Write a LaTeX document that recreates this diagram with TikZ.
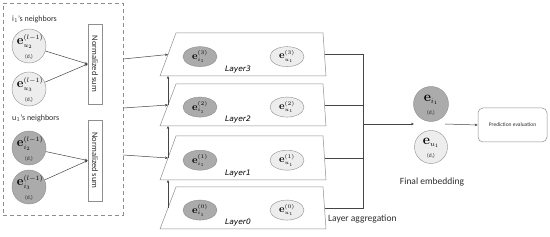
\RequirePackage{fix-cm}
\documentclass[tikz,border=0pt]{standalone}
\usepackage[no-math]{fontspec}
\setmainfont{Carlito}
\newfontfamily\layerfont{DejaVu Sans}
\usetikzlibrary{arrows.meta,calc,shapes.geometric}
\DeclareMathSizes{13}{13}{6.5}{5}
\DeclareMathSizes{10.5}{10.5}{5.5}{4.5}
\DeclareMathSizes{14}{14}{7}{5}
\definecolor{darkfill}{HTML}{ABABAB}
\definecolor{lightfill}{HTML}{EDEDED}
\definecolor{edgegray}{HTML}{8E8E8E}
\definecolor{linegray}{HTML}{454545}
\definecolor{txtgray}{HTML}{2E2E2E}
\tikzset{
  conn/.style={draw=linegray, line width=0.5pt, -{Stealth[length=3pt,width=2.6pt]}},
  plainline/.style={draw=linegray, line width=0.5pt},
  nbcirc/.style={circle, draw=edgegray, line width=0.4pt, minimum size=34pt, inner sep=0pt},
  nbdark/.style={nbcirc, fill=darkfill},
  nblight/.style={nbcirc, fill=lightfill},
  etext/.style={inner sep=0pt, font=\fontsize{13}{13}\selectfont},
  dtext/.style={inner sep=0pt, font=\fontsize{5.5}{6}\selectfont, text=txtgray},
  layerell/.style={ellipse, draw=edgegray, line width=0.4pt, minimum width=34pt, minimum height=20pt, inner sep=0pt, font=\fontsize{10.5}{10.5}\selectfont},
  plane/.style={draw=edgegray, line width=0.5pt, fill=white},
  sumbox/.style={draw=edgegray, line width=0.5pt, minimum width=14pt, inner sep=0pt, text=txtgray},
  lbl/.style={text=txtgray, inner sep=0pt},
  layerlbl/.style={inner sep=0pt, font=\layerfont\itshape\fontsize{7.5}{8}\selectfont, text=black},
}
\begin{document}
\begin{tikzpicture}[x=1pt,y=-1pt]
\useasboundingbox (0,0) rectangle (550,237);
\fill[white] (0,0) rectangle (550,237);

% dashed neighbour box
\node[draw=edgegray, dashed, dash pattern=on 4pt off 3pt, line width=0.6pt, minimum width=120pt, minimum height=212pt, inner sep=0pt] (nbbox) at (63,109) {};
\node[lbl, anchor=west, font=\fontsize{8}{8}\selectfont] (lab1) at (12,19) {i$_1$'s neighbors};
\node[lbl, anchor=west, font=\fontsize{8}{8}\selectfont] (lab2) at (12,118) {u$_1$'s neighbors};

\foreach \nm/\sty/\cy/\sb in {c1/nblight/46/u_2, c2/nblight/89/u_3, c3/nbdark/148/i_2, c4/nbdark/187/i_3}{
  \node[\sty] (\nm) at (29,\cy) {};
  \node[etext] (\nm e) at ($(\nm.center)+(1,-4)$) {$\mathbf{e}^{(l-1)}_{\sb}$};
  \node[dtext] (\nm d) at ($(\nm.center)+(0,11)$) {(d,)};
}

\node[sumbox, minimum height=80pt] (ns1) at (95,64) {};
\node[sumbox, minimum height=81pt] (ns2) at (95,160.5) {};
\node[lbl, rotate=-90, font=\fontsize{8.5}{9}\selectfont] (ns1t) at (ns1.center) {Normalized sum};
\node[lbl, rotate=-90, font=\fontsize{8.5}{9}\selectfont] (ns2t) at (ns2.center) {Normalized sum};

\draw[conn] (c1) -- (ns1.west);
\draw[conn] (c2) -- (ns1.west);
\draw[conn] (c3) -- (ns2.west);
\draw[conn] (c4) -- (ns2.west);

% layer planes
\foreach \n/\T/\B in {3/33/76, 2/84/126, 1/136/180, 0/187/229}{
  \draw[plane] (176,\T) coordinate (tl\n) -- (323,\T) coordinate (tr\n) -- (326,\B) coordinate (br\n) -- (160,\B) coordinate (bl\n) -- cycle;
  \coordinate (lm\n) at ($(tl\n)!0.5!(bl\n)$);
  \coordinate (rm\n) at ($(tr\n)!0.5!(br\n)$);
  \node[layerell, fill=darkfill] (d\n) at (200,{\T+0.55*(\B-\T)}) {$\mathbf{e}^{(\n)}_{i_1}$};
  \node[layerell, fill=lightfill] (l\n) at (287,{\T+0.55*(\B-\T)}) {$\mathbf{e}^{(\n)}_{u_1}$};
  \node[layerlbl] (t\n) at (238,{\B-6}) {Layer\n};
}

% inputs from the neighbour box
\coordinate (o3) at (nbbox.east |- 0,59);
\coordinate (o2) at (nbbox.east |- 0,108);
\coordinate (o1) at (nbbox.east |- 0,155);
\draw[conn] (o3) -- (lm3);
\draw[conn] (o2) -- (lm2);
\draw[conn] (o1) -- (lm1);

% vertical arrows between layers
\draw[conn] (lm0) -- (lm0 |- bl1);
\draw[conn] (lm1) -- (lm1 |- bl2);
\draw[conn] (lm2) -- (lm2 |- bl3);

% layer aggregation
\coordinate (agg3) at (363,0 |- rm3);
\coordinate (agg0) at (363,0 |- rm0);
\draw[plainline] (rm3) -- (agg3) -- (agg0) -- (rm0);
\draw[plainline] (rm2) -- (363,0 |- rm2);
\draw[plainline] (rm1) -- (363,0 |- rm1);
\coordinate (aggout) at (363,124);
\coordinate (finin) at (414,124);
\draw[conn] (aggout) -- (finin);
\node[lbl, anchor=west, font=\fontsize{9.5}{10}\selectfont] (agglbl) at (328,219) {Layer aggregation};

% final embedding
\node[nbdark, minimum size=35pt] (fi) at (431,104) {};
\node[etext, font=\fontsize{14}{14}\selectfont] (fie) at ($(fi.center)+(0,-4)$) {$\mathbf{e}_{i_1}$};
\node[dtext] (fid) at ($(fi.center)+(0,9)$) {(d,)};
\node[nblight, minimum size=33pt] (fu) at (431,147) {};
\node[etext, font=\fontsize{14}{14}\selectfont] (fue) at ($(fu.center)+(0,-4)$) {$\mathbf{e}_{u_1}$};
\node[dtext] (fud) at ($(fu.center)+(0,9)$) {(d,)};
\node[lbl, font=\fontsize{9.5}{10}\selectfont] (finlbl) at (432,182) {Final embedding};

\node[draw=edgegray, line width=0.5pt, rounded corners=5pt, minimum width=69pt, minimum height=34pt, inner sep=0pt, text=txtgray, font=\fontsize{5.5}{6}\selectfont] (pred) at (512.5,125) {Prediction evaluation};
\coordinate (finout) at (445,124);
\draw[conn] (finout) -- (pred.west);
\end{tikzpicture}
\end{document}
